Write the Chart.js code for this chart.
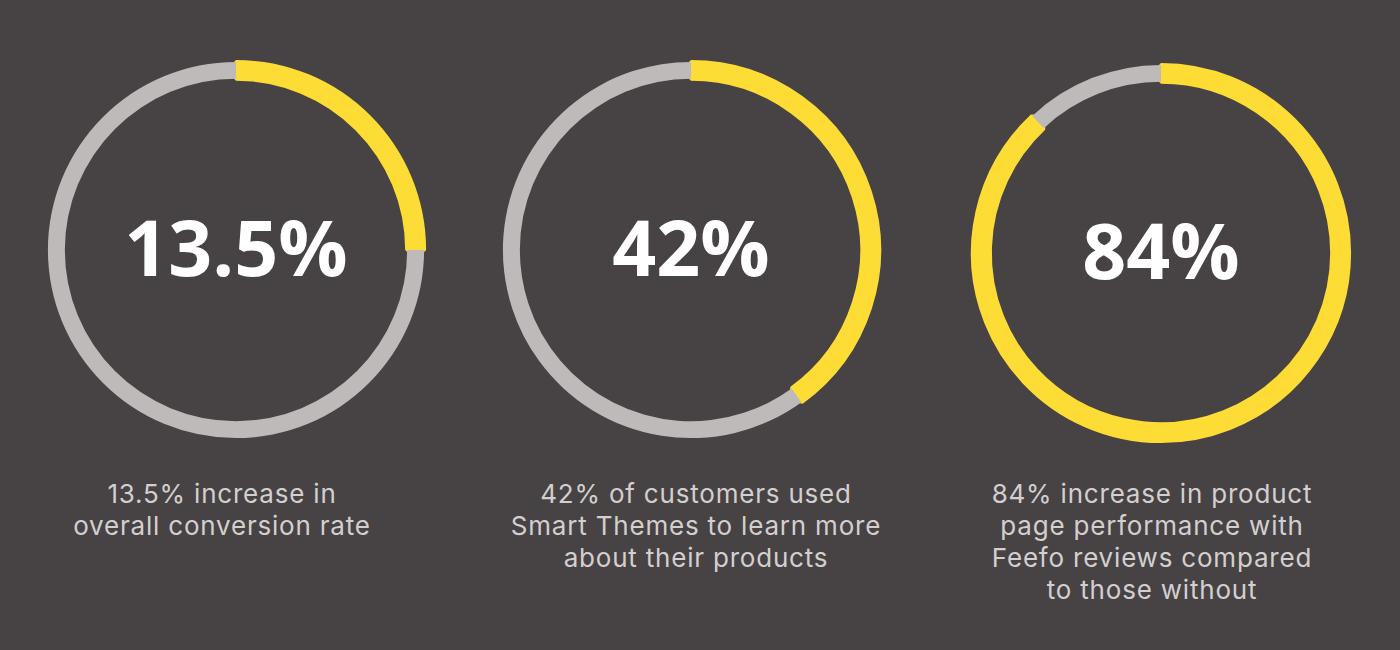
<!DOCTYPE html>
<html><head><meta charset="utf-8">
<script src="https://cdn.jsdelivr.net/npm/chart.js@4/dist/chart.umd.min.js"></script>
<style>
body{margin:0;background:#474344;width:1400px;height:650px;overflow:hidden;position:relative;font-family:Inter,"Noto Sans",sans-serif}
.c{position:absolute;width:400px;height:400px}
.cap{position:absolute;top:478px;width:440px;text-align:center;color:#d3cfcf;font-size:26px;line-height:32px;letter-spacing:0.8px}
</style></head><body>
<div class="c" style="left:36px;top:50px"><canvas id="c0" width="400" height="400"></canvas></div>
<div class="c" style="left:491px;top:50px"><canvas id="c1" width="400" height="400"></canvas></div>
<div class="c" style="left:961px;top:53px"><canvas id="c2" width="400" height="400"></canvas></div>
<div class="cap" style="left:2px">13.5% increase in<br>overall conversion rate</div>
<div class="cap" style="left:476px">42% of customers used<br>Smart Themes to learn more<br>about their products</div>
<div class="cap" style="left:932px">84% increase in product<br>page performance with<br>Feefo reviews compared<br>to those without</div>
<script>
const centerLabels = ["13.5%", "42%", "84%"];
// arc share as drawn in the picture (percent)
const arcValues = [25, 40, 88];

const centerText = {
  id: "centerText",
  afterDraw(chart, args, opts) {
    const {ctx, chartArea} = chart;
    ctx.save();
    ctx.fillStyle = "#ffffff";
    ctx.font = "bold 77px 'Open Sans', sans-serif";
    ctx.textAlign = "center";
    ctx.textBaseline = "middle";
    ctx.fillText(opts.text, (chartArea.left + chartArea.right) / 2, (chartArea.top + chartArea.bottom) / 2 + 4);
    ctx.restore();
  }
};

arcValues.forEach((v, i) => {
  new Chart(document.getElementById("c" + i), {
    type: "doughnut",
    data: {
      labels: ["value", "rest"],
      datasets: [{
        data: [v, 100 - v],
        backgroundColor: ["#fddd35", "#bfbaba"],
        borderColor: ["#fddd35", "#bfbaba"],
        borderWidth: [4, 0]
      }]
    },
    options: {
      responsive: false,
      animation: false,
      radius: "95%",
      cutout: "91%",
      plugins: {
        legend: {display: false},
        tooltip: {enabled: false},
        centerText: {text: centerLabels[i]}
      }
    },
    plugins: [centerText]
  });
});
</script>
</body></html>
